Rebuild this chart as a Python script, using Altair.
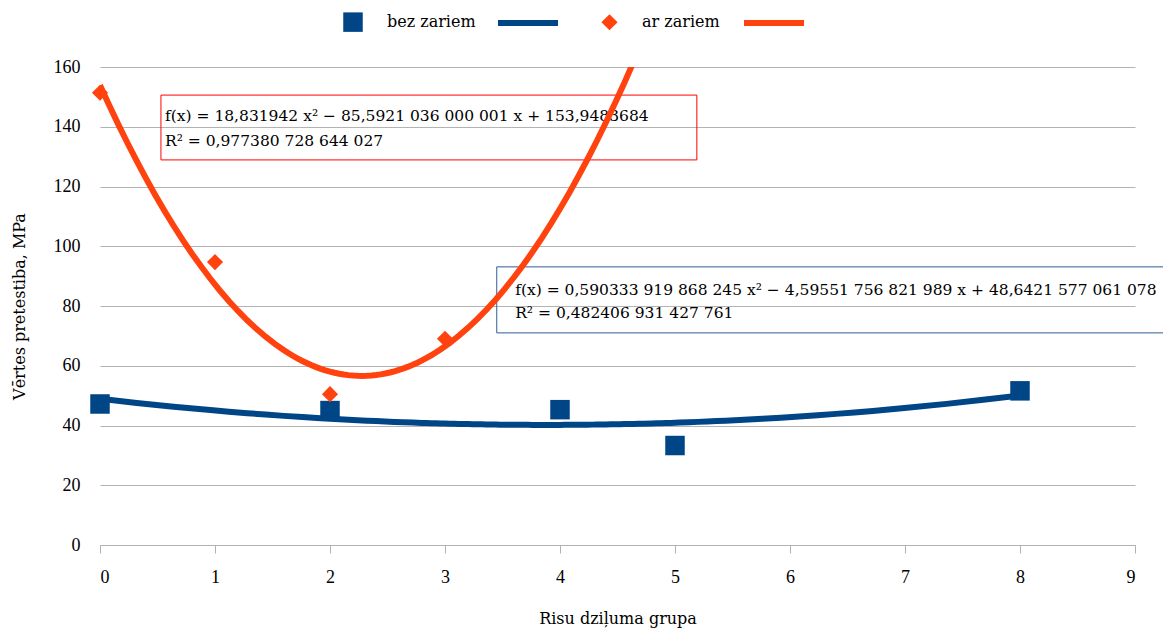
import altair as alt
import pandas as pd

# data
bez_x = [0, 2, 4, 5, 8]
bez_y = [47.2, 45.0, 45.3, 33.3, 51.6]
ar_x = [0, 1, 2, 3]
ar_y = [151.4, 94.7, 50.5, 69.0]
series_names = ["bez zariem", "ar zariem"]
colors = ["#004586", "#ff420e"]
x_ticks = list(range(0, 10))
y_ticks = list(range(0, 161, 20))

eq_red = ["f(x) = 18,831942  x²  −  85,5921 036 000 001 x  +  153,9483684",
          "R² = 0,977380 728 644 027"]
eq_blue = ["f(x) = 0,590333 919 868 245 x² − 4,59551 756 821 989 x + 48,6421 577 061 078",
           "R² = 0,482406 931 427 761"]

FONT = "DejaVu Serif"
LABEL_FONT = "Liberation Serif"

series_col = [series_names[0]] * len(bez_x) + [series_names[1]] * len(ar_x)
df = pd.DataFrame({"x": bez_x + ar_x, "y": bez_y + ar_y, "series": series_col})
df["marker"] = df["series"]

xs = alt.Scale(domain=[0, 9], nice=False, zero=False)
ys = alt.Scale(domain=[0, 160], nice=False)

x_axis = alt.Axis(values=x_ticks, format="d", title="Risu dziļuma grupa",
                  labelFont=LABEL_FONT, labelFontSize=18, titleFont=FONT)
y_axis = alt.Axis(values=y_ticks, format="d", title="Vērtes pretestiba, MPa",
                  labelFont=LABEL_FONT, labelFontSize=18, titleFont=FONT)

color_scale = alt.Scale(domain=series_names, range=colors)

pts_legend = alt.Legend(orient="none", legendX=243, legendY=-55,
                        direction="horizontal", title=None,
                        symbolSize=190, labelFont=FONT, labelFontSize=16,
                        labelColor="#000", labelOffset=24, columnPadding=125)

base = alt.Chart(df)

pts = base.mark_point(filled=True, opacity=1).encode(
    x=alt.X("x:Q", scale=xs, axis=x_axis),
    y=alt.Y("y:Q", scale=ys, axis=y_axis),
    color=alt.Color("series:N", scale=color_scale, legend=pts_legend),
    shape=alt.Shape("series:N", scale=alt.Scale(domain=series_names, range=["square", "diamond"]),
                    legend=pts_legend),
    size=alt.Size("marker:N", scale=alt.Scale(domain=series_names, range=[380, 260]), legend=None),
)

trend = base.transform_regression(
    "x", "y", method="poly", order=2, groupby=["series"], extent=[0, 8]
).mark_line(clip=True, strokeWidth=6).encode(
    x=alt.X("x:Q", scale=xs),
    y=alt.Y("y:Q", scale=ys),
    stroke=alt.Stroke("series:N", scale=color_scale,
                      legend=alt.Legend(orient="none", legendX=395, legendY=-77,
                                        direction="horizontal", title=None,
                                        symbolType="stroke", symbolSize=3600,
                                        symbolStrokeWidth=6, labelExpr="''",
                                        columnPadding=162, labelLimit=1)),
)

# equation boxes (data coordinates)
boxes = pd.DataFrame({
    "x0": [0.53, 3.45], "x1": [5.19, 9.6],
    "y0": [150.6, 93.1], "y1": [128.9, 71.0],
    "c": ["#ff0000", "#2e5d9a"],
})
box_layer = alt.Chart(boxes).mark_rect(fillOpacity=0, strokeWidth=1, clip=False).encode(
    x=alt.X("x0:Q", scale=xs), x2="x1:Q",
    y=alt.Y("y0:Q", scale=ys), y2="y1:Q",
    stroke=alt.Stroke("c:N", scale=None),
)

texts = pd.DataFrame({
    "x": [0.565, 0.565, 3.61, 3.61],
    "y": [143.6, 135.3, 85.4, 77.7],
    "t": eq_red + eq_blue,
})
text_layer = alt.Chart(texts).mark_text(
    align="left", baseline="middle", font=FONT, fontSize=15.5, color="#000", clip=False
).encode(
    x=alt.X("x:Q", scale=xs), y=alt.Y("y:Q", scale=ys), text="t:N"
)

chart = alt.layer(pts, box_layer, text_layer, trend).resolve_scale(
    stroke="independent"
).properties(
    width=1035, height=478,
    autosize=alt.AutoSizeParams(type="none"),
    padding={"left": 92, "top": 59, "right": 28, "bottom": 84},
).configure(
    font=FONT
).configure_view(stroke=None).configure_legend(
    symbolStrokeWidth=0, labelFont=FONT
).configure_axis(
    labelColor="#000",
    titleFontSize=16, titleFontWeight="normal", titleColor="#000",
).configure_axisX(
    grid=False, domainColor="#b3b3b3", tickColor="#b3b3b3", tickSize=8,
    labelPadding=15, titlePadding=24,
).configure_axisY(
    grid=True, gridColor="#b3b3b3", domain=False, ticks=False,
    labelPadding=20, titlePadding=26,
)

chart.save("out.html", embed_options={"renderer": "svg", "actions": False})
